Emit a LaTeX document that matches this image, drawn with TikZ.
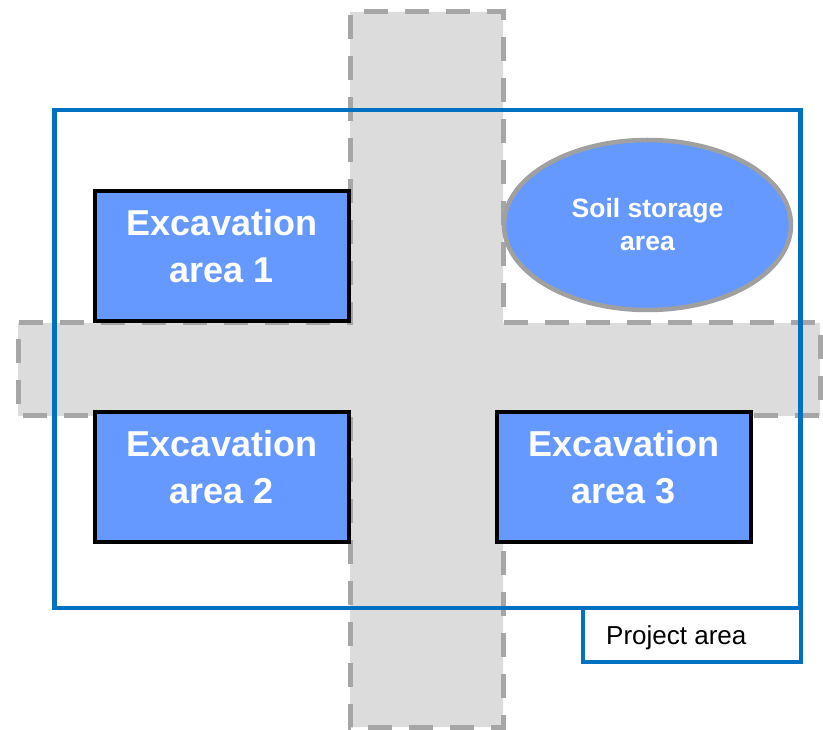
\documentclass[tikz,border=0pt]{standalone}
\usepackage{fontspec}
\setmainfont{Liberation Sans}
\usetikzlibrary{shapes.geometric}
\definecolor{roadgray}{HTML}{DCDCDC}
\definecolor{dashgray}{HTML}{A6A6A6}
\definecolor{areablue}{HTML}{6699FF}
\definecolor{projblue}{HTML}{0070C0}
\definecolor{rimgray}{HTML}{A0A0A0}
\begin{document}
\begin{tikzpicture}[x=1pt,y=-1pt,
  road/.style={fill=roadgray, draw=dashgray, line width=5pt, dash pattern=on 24pt off 17pt, dash phase=-14pt},
  exbox/.style={rectangle, draw=black, fill=areablue, line width=4pt, inner sep=0pt,
    minimum width=254pt, minimum height=130pt},
  extext/.style={text=white, align=center, font=\bfseries\fontsize{36}{47}\selectfont, inner sep=0pt},
  soil/.style={ellipse, draw=rimgray, fill=areablue, line width=4.5pt, inner sep=0pt,
    minimum width=287pt, minimum height=170pt},
  soiltext/.style={text=white, align=center, font=\bfseries\fontsize{26.5}{33}\selectfont, inner sep=0pt},
  project/.style={draw=projblue, line width=4.5pt},
  legendbox/.style={draw=projblue, line width=4pt, fill=white},
  legendtext/.style={font=\fontsize{26}{30}\selectfont, inner sep=0pt, anchor=base west}]
\useasboundingbox (0,0) rectangle (823,730);

% crossing haul roads
\draw[road] (350,12) -- (503,12) -- (503,323) -- (820,323) -- (820,416) -- (503,416)
  -- (503,727) -- (350,727) -- (350,416) -- (18,416) -- (18,323) -- (350,323) -- cycle;

% project boundary and its legend
\draw[project] (54.5,110) rectangle (800.5,608);
\draw[legendbox] (583,608) rectangle (800.5,661.5);
\node[legendtext] (legend) at (606,644) {Project area};

% excavation areas
\node[exbox] (ex1) at (222,256) {};
\node[exbox] (ex2) at (222,477) {};
\node[exbox] (ex3) at (624,477) {};
\node[extext] (ex1t) at ([yshift=10pt]ex1.center) {Excavation\\area 1};
\node[extext] (ex2t) at ([yshift=10pt]ex2.center) {Excavation\\area 2};
\node[extext] (ex3t) at ([yshift=10pt]ex3.center) {Excavation\\area 3};

% soil storage
\node[soil] (soil) at (647.5,225) {};
\node[soiltext] (soilt) at (soil.center) {Soil storage\\area};
\end{tikzpicture}
\end{document}
